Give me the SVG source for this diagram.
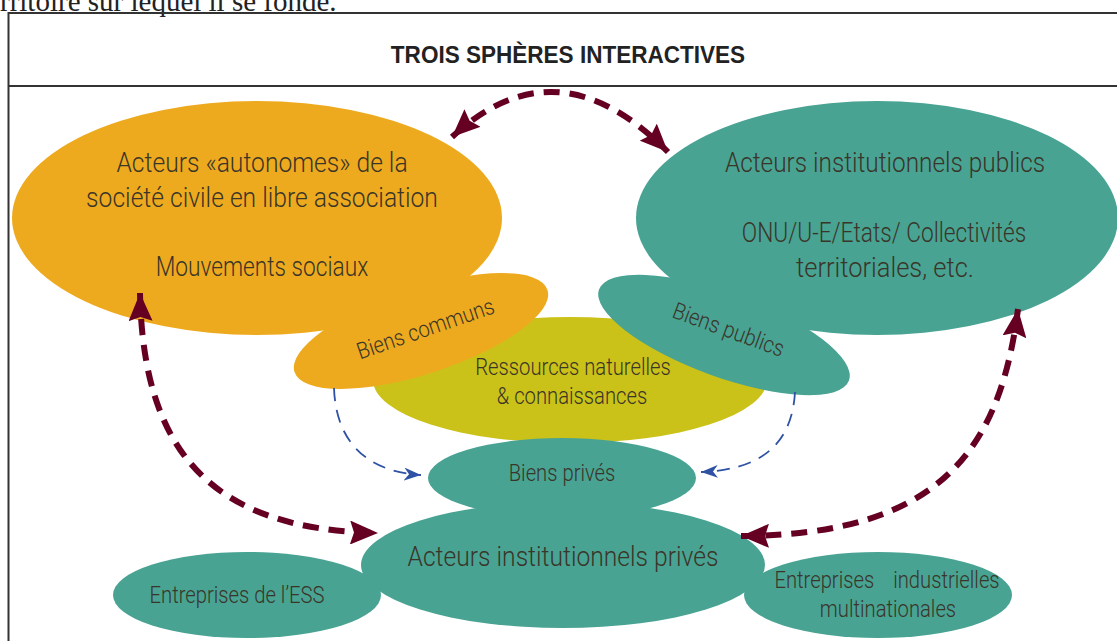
<svg xmlns="http://www.w3.org/2000/svg" width="1117" height="641" viewBox="0 0 1117 641">
<style>
.frame{fill:none;stroke:#333;stroke-width:2}
.top{font-family:"Liberation Serif",serif;font-size:29px;fill:#222}
.title{font-family:"Liberation Sans",Arial,sans-serif;font-weight:bold;font-size:24.5px;fill:#222;text-anchor:middle}
.t{font-family:Roboto,"Open Sans","Liberation Sans",sans-serif;font-weight:300;fill:#3a3528;text-anchor:middle}
.big{font-size:28px}
.sm{font-size:23px}
.or{fill:#EEAA1F}
.te{fill:#48A393}
.ye{fill:#CBC219}
.maroon{fill:none;stroke:#660022;stroke-width:6;stroke-dasharray:16 10;marker-start:url(#mh);marker-end:url(#mh)}
.blue{fill:none;stroke:#2F52A5;stroke-width:1.8;stroke-dasharray:13 9;marker-end:url(#bh)}
</style>
<defs>
<marker id="mh" markerUnits="userSpaceOnUse" markerWidth="28" markerHeight="24" refX="28" refY="12" orient="auto-start-reverse" viewBox="0 0 28 24">
<path d="M0,0 L28,12 L0,24 L4,12 Z" fill="#660022"/>
</marker>
<marker id="bh" markerUnits="userSpaceOnUse" markerWidth="17" markerHeight="13" refX="17" refY="6.5" orient="auto" viewBox="0 0 17 13">
<path d="M0,0 L17,6.5 L0,13 L5,6.5 Z" fill="#2F52A5"/>
</marker>
</defs>
<rect width="1117" height="641" fill="#fff"/>
<text class="top" x="0" y="11">rritoire sur lequel il se fonde.</text>
<path class="frame" d="M1125,13 H8.5 V650 M8.5,86 H1125"/>
<text class="title" transform="translate(568 63) scale(0.92 1)">TROIS SPHÈRES INTERACTIVES</text>

<g id="ressources">
<ellipse class="ye" cx="570" cy="380" rx="197" ry="63"/>
<text class="t sm" transform="translate(573 375) scale(0.88 1)">Ressources naturelles</text>
<text class="t sm" transform="translate(572 404) scale(0.88 1)">&amp; connaissances</text>
</g>
<g id="societe-civile">
<ellipse class="or" cx="257" cy="218" rx="245" ry="117"/>
<text class="t big" transform="translate(262 172) scale(0.88 1)">Acteurs «autonomes» de la</text>
<text class="t big" transform="translate(262 207) scale(0.88 1)">société civile en libre association</text>
<text class="t big" transform="translate(262 276) scale(0.81 1)">Mouvements sociaux</text>
</g>
<g id="biens-communs">
<ellipse class="or" cx="421" cy="331" rx="133" ry="43" transform="rotate(-18 421 331)"/>
<text class="t sm" transform="translate(428 336) rotate(-19) scale(0.88 1)">Biens communs</text>
</g>
<g id="acteurs-publics">
<ellipse class="te" cx="877" cy="218" rx="241" ry="117"/>
<text class="t big" transform="translate(885 172) scale(0.87 1)">Acteurs institutionnels publics</text>
<text class="t big" transform="translate(884 242) scale(0.81 1)">ONU/U-E/Etats/ Collectivités</text>
<text class="t big" transform="translate(885 277) scale(0.91 1)">territoriales, etc.</text>
</g>
<g id="biens-publics">
<ellipse class="te" cx="724" cy="335" rx="133" ry="42" transform="rotate(20 724 335)"/>
<text class="t sm" transform="translate(726 337) rotate(20) scale(0.88 1)">Biens publics</text>
</g>
<g id="biens-prives">
<ellipse class="te" cx="562" cy="478" rx="134" ry="40"/>
<text class="t sm" transform="translate(562 481) scale(0.88 1)">Biens privés</text>
</g>
<g id="acteurs-prives">
<ellipse class="te" cx="563" cy="565" rx="202" ry="63"/>
<text class="t big" transform="translate(563 566) scale(0.88 1)">Acteurs institutionnels privés</text>
</g>
<g id="ess">
<ellipse class="te" cx="247" cy="595" rx="134" ry="43"/>
<text class="t sm" transform="translate(237 603) scale(0.88 1)">Entreprises de l’ESS</text>
</g>
<g id="multinationales">
<ellipse class="te" cx="878" cy="595" rx="134" ry="43"/>
<text class="t sm" transform="translate(887 588) scale(0.88 1)" word-spacing="16">Entreprises industrielles</text>
<text class="t sm" transform="translate(888 617) scale(0.88 1)">multinationales</text>
</g>

<g id="connectors">
<path class="maroon" d="M452,137 Q557,40 668,152"/>
<path class="maroon" d="M140,293 C143,450 210,530 378,533"/>
<path class="maroon" d="M1018,309 C1000,450 940,535 741,536"/>
<path class="blue" d="M334,388 C336,445 370,472 421,475"/>
<path class="blue" d="M795,392 C792,445 760,470 701,472"/>
</g>
</svg>
